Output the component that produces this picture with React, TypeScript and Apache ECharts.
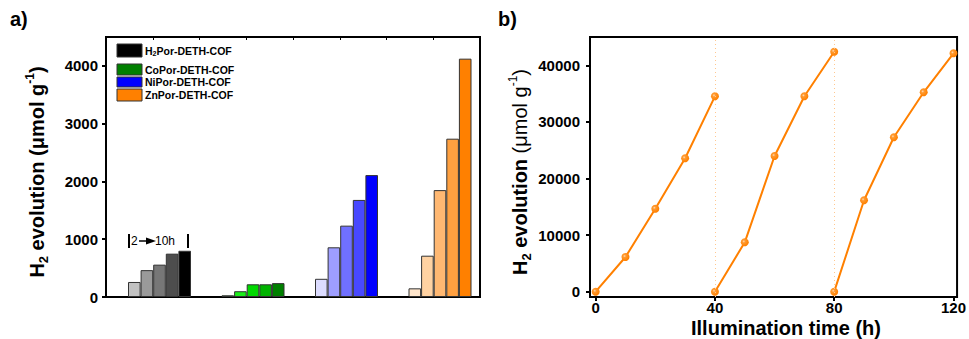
import React, { useEffect, useRef } from "react";
import * as echarts from "echarts";

const groups = ["H2Por-DETH-COF", "CoPor-DETH-COF", "NiPor-DETH-COF", "ZnPor-DETH-COF"];
const hours = ["2 h", "4 h", "6 h", "8 h", "10 h"];
const h2Values = [260, 465, 560, 750, 800];
const coValues = [30, 100, 220, 220, 240];
const niValues = [315, 860, 1235, 1680, 2110];
const znValues = [150, 715, 1850, 2740, 4125];

const h2Colors = ["#c2c2c2", "#9a9a9a", "#777777", "#4d4d4d", "#000000"];
const coColors = ["#46cf46", "#1aee1a", "#00d900", "#00b300", "#008000"];
const niColors = ["#dcdcff", "#9e9eff", "#7070ff", "#4848ff", "#0000ff"];
const znColors = ["#ffe6cc", "#ffd2a2", "#ffb872", "#ffa040", "#ff8000"];
const legendColors = ["#000000", "#008000", "#0000ff", "#ff8000"];

const leftTicks = [0, 1000, 2000, 3000, 4000];
const rightYTicks = [0, 10000, 20000, 30000, 40000];
const rightXTicks = [0, 40, 80, 120];

const time1 = [0, 10, 20, 30, 40];
const run1 = [0, 6130, 14660, 23570, 34520];
const time2 = [40, 50, 60, 70, 80];
const run2 = [0, 8720, 23970, 34520, 42400];
const time3 = [80, 90, 100, 110, 120];
const run3 = [0, 16150, 27280, 35230, 42120];
const cycleBreaks = [40, 80];

const FONT = 'Arial, "Liberation Sans", sans-serif';

export default function App() {
  const ref = useRef<HTMLDivElement>(null);
  useEffect(() => {
    if (!ref.current) return;
    const chart = echarts.init(ref.current, null, { renderer: "svg" });
    const groupValues = [h2Values, coValues, niValues, znValues];
    const groupColors = [h2Colors, coColors, niColors, znColors];

    const barSeries = hours.map((h, j) => ({
      type: "bar",
      name: h,
      xAxisIndex: 2,
      yAxisIndex: 2,
      barWidth: 12.6,
      barGap: "0%",
      data: groupValues.map((vals, g) => ({
        value: vals[j],
        itemStyle: { color: groupColors[g][j], borderColor: "#333", borderWidth: 1 },
      })),
    }));

    const markerColor = new echarts.graphic.RadialGradient(0.38, 0.38, 0.6, [
      { offset: 0, color: "#ffdcb8" },
      { offset: 0.3, color: "#ff9a30" },
      { offset: 1, color: "#ff8000" },
    ]);

    const runs = [
      [time1, run1],
      [time2, run2],
      [time3, run3],
    ];
    const lineSeries = runs.map(([t, v], i) => ({
      type: "line",
      xAxisIndex: 3,
      yAxisIndex: 3,
      symbol: "circle",
      symbolSize: 8,
      lineStyle: { color: "#ff8000", width: 2 },
      itemStyle: { color: markerColor },
      data: t.map((x, k) => [x, v[k]]),
      markLine:
        i === 0
          ? {
              silent: true,
              symbol: ["none", "none"],
              label: { show: false },
              lineStyle: { color: "#ffc890", type: [1, 3], width: 1 },
              data: cycleBreaks.map((x) => ({ xAxis: x })),
            }
          : undefined,
    }));

    const noLine = () => ({ show: false, onZero: false });
    const labelStyle = () => ({
      fontFamily: FONT,
      fontWeight: "bold",
      fontSize: 15,
      color: "#000",
      formatter: (v: number) => String(v),
    });

    const titleRich = (weightParen: string) => ({
      b: { fontFamily: FONT, fontWeight: "bold", fontSize: 20, lineHeight: 26, verticalAlign: "middle", color: "#000" },
      p: { fontFamily: FONT, fontWeight: weightParen, fontSize: 20, lineHeight: 26, verticalAlign: "middle", color: "#000" },
      s: { fontFamily: FONT, fontWeight: "bold", fontSize: 13, lineHeight: 13, verticalAlign: "bottom", color: "#000" },
      u: { fontFamily: FONT, fontWeight: weightParen, fontSize: 12, lineHeight: 13, verticalAlign: "top", color: "#000" },
    });

    const legendRows = [
      { y: 44, h: 13 },
      { y: 64, h: 11 },
      { y: 77, h: 10 },
      { y: 89, h: 12 },
    ];

    const graphic: any[] = [
      { type: "text", left: 10, top: 9, style: { text: "a)", font: `bold 20px ${FONT}`, fill: "#000" } },
      { type: "text", left: 498, top: 9, style: { text: "b)", font: `bold 20px ${FONT}`, fill: "#000" } },
      {
        type: "text",
        x: 37,
        y: 172,
        rotation: Math.PI / 2,
        style: {
          text: "{b|H}{s|2}{b| evolution (μmol g}{u|-1}{b|)}",
          rich: titleRich("bold"),
          align: "center",
          verticalAlign: "middle",
        },
      },
      {
        type: "text",
        x: 520,
        y: 172,
        rotation: Math.PI / 2,
        style: {
          text: "{b|H}{s|2}{b| evolution }{p|(μmol g}{u|-1}{p|)}",
          rich: titleRich("normal"),
          align: "center",
          verticalAlign: "middle",
        },
      },
      {
        type: "text",
        x: 786,
        y: 328,
        style: { text: "Illumination time (h)", font: `bold 20px ${FONT}`, fill: "#000", align: "center", verticalAlign: "middle" },
      },
      // annotation "|2 -> 10h |"
      { type: "line", shape: { x1: 129, y1: 234, x2: 129, y2: 248 }, style: { stroke: "#000", lineWidth: 2 } },
      { type: "text", x: 131, y: 241, style: { text: "2", font: `12px ${FONT}`, fill: "#000", verticalAlign: "middle" } },
      { type: "line", shape: { x1: 139, y1: 241, x2: 148, y2: 241 }, style: { stroke: "#000", lineWidth: 1.5 } },
      { type: "polygon", shape: { points: [[146, 237.5], [156, 241], [146, 244.5]] }, style: { fill: "#000" } },
      { type: "text", x: 155, y: 241, style: { text: "10h", font: `12px ${FONT}`, fill: "#000", verticalAlign: "middle" } },
      { type: "line", shape: { x1: 188, y1: 234, x2: 188, y2: 248 }, style: { stroke: "#000", lineWidth: 2 } },
    ];
    groups.forEach((g, i) => {
      const r = legendRows[i];
      graphic.push({
        type: "rect",
        shape: { x: 117, y: r.y, width: 25, height: r.h },
        style: { fill: legendColors[i], stroke: "#333", lineWidth: 1 },
      });
      const name = g.startsWith("H2") ? "{n|H}{s|2}{n|" + g.slice(2) + "}" : "{n|" + g + "}";
      graphic.push({
        type: "text",
        x: 145,
        y: r.y + r.h / 2,
        style: {
          text: name,
          verticalAlign: "middle",
          rich: {
            n: { fontFamily: FONT, fontWeight: "bold", fontSize: 10.5, lineHeight: 13, verticalAlign: "middle", color: "#000" },
            s: { fontFamily: FONT, fontWeight: "bold", fontSize: 7, lineHeight: 8, verticalAlign: "bottom", color: "#000" },
          },
        },
      });
    });

    chart.setOption({
      animation: false,
      backgroundColor: "#fff",
      grid: [
        { left: 106, top: 37, width: 374, height: 260, show: true, borderColor: "#000", borderWidth: 2, backgroundColor: "transparent" },
        { left: 112.75, top: 37, width: 374, height: 260 },
        { left: 590, top: 37, width: 371, height: 260, show: true, borderColor: "#000", borderWidth: 2, backgroundColor: "transparent" },
      ],
      xAxis: [
        {
          gridIndex: 0, type: "value", min: 0, max: 8, interval: 1, position: "top",
          axisLine: noLine(),
          axisTick: { show: true, inside: true, length: 3, lineStyle: { color: "#000", width: 1 } },
          axisLabel: { show: false }, splitLine: { show: false },
        },
        { gridIndex: 1, type: "category", data: groups, show: false },
        {
          gridIndex: 2, type: "value", min: -1.9, max: 121.2, position: "bottom",
          axisLine: noLine(),
          axisTick: { show: true, length: 4, customValues: rightXTicks, lineStyle: { color: "#000", width: 2 } },
          axisLabel: { ...labelStyle(), margin: 3, customValues: rightXTicks },
          splitLine: { show: false },
        },
      ],
      yAxis: [
        {
          gridIndex: 0, type: "value", min: 0, max: 4500, interval: 1000, position: "left",
          axisLine: noLine(),
          axisTick: { show: true, length: 4, customValues: leftTicks, lineStyle: { color: "#000", width: 2 } },
          axisLabel: { ...labelStyle(), margin: 8, customValues: leftTicks },
          splitLine: { show: false },
        },
        { gridIndex: 1, type: "value", min: 0, max: 4500, show: false },
        {
          gridIndex: 2, type: "value", min: -940, max: 45000, position: "left",
          axisLine: noLine(),
          axisTick: { show: true, length: 4, customValues: rightYTicks, lineStyle: { color: "#000", width: 2 } },
          axisLabel: { ...labelStyle(), margin: 10, customValues: rightYTicks },
          splitLine: { show: false },
        },
      ],
      series: [
        ...barSeries.map((s) => ({ ...s, xAxisIndex: 1, yAxisIndex: 1 })),
        ...lineSeries.map((s) => ({ ...s, xAxisIndex: 2, yAxisIndex: 2 })),
      ],
      graphic,
    });
    return () => chart.dispose();
  }, []);
  return (
    <div
      ref={ref}
      style={{ position: "fixed", left: 0, top: 0, width: 969, height: 339, background: "#fff" }}
    />
  );
}
